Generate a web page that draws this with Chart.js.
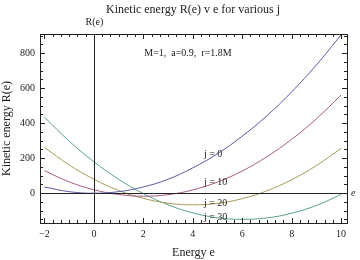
<!DOCTYPE html>
<html>
<head>
<meta charset="utf-8">
<script src="https://cdn.jsdelivr.net/npm/chart.js@4.4.1/dist/chart.umd.min.js"></script>
<style>
  html, body { margin: 0; padding: 0; background: #fff; }
  #wrap { width: 360px; height: 260px; }
</style>
</head>
<body>
<div id="wrap"><canvas id="chart" width="360" height="260"></canvas></div>
<script>
// energy values (x) and R(e)
const energy = [-2, -1, 0, 1, 2, 3, 4, 5, 6, 7, 8, 9, 10];
const rJ0  = [35, 8, -1, 8, 35, 79, 144, 225, 325, 442, 578, 732, 904];
const rJ10 = [128, 64, 19, -8, -18, -9, 18, 63, 126, 208, 307, 424, 560];
const rJ20 = [261, 161, 79, 15, -30, -58, -67, -59, -32, 13, 76, 157, 256];
const rJ30 = [434, 297, 179, 79, -3, -67, -113, -141, -150, -142, -115, -71, -8];

const seriesNames = ['j = 0', 'j = 10', 'j = 20', 'j = 30'];
const seriesColors = ['#5a5aa6', '#a55a85', '#a89a5a', '#5aa08c'];

const xTicks = [-2, 0, 2, 4, 6, 8, 10];
const yTicks = [0, 200, 400, 600, 800];

// curve labels [x, y, text]
const curveLabels = [
  [4.45, 223, 'j = 0'],
  [4.45, 63, 'j = 10'],
  [4.45, -57, 'j = 20'],
  [4.45, -137, 'j = 30']
];

const serif = "'Liberation Serif', 'DejaVu Serif', serif";

function pts(ys) {
  return energy.map((e, i) => ({ x: e, y: ys[i] }));
}

const frame = {
  id: 'frame',
  afterDraw(chart) {
    const ctx = chart.ctx;
    const a = chart.chartArea;
    const xs = chart.scales.x, ys = chart.scales.y;
    ctx.save();
    ctx.strokeStyle = '#222';
    ctx.lineWidth = 1;

    // axes through the origin
    const x0 = Math.round(xs.getPixelForValue(0)) + 0.5;
    const y0 = Math.round(ys.getPixelForValue(0)) + 0.5;
    ctx.beginPath();
    ctx.moveTo(x0, a.top); ctx.lineTo(x0, a.bottom);
    ctx.moveTo(a.left, y0); ctx.lineTo(a.right, y0);
    ctx.stroke();

    // frame
    ctx.strokeRect(Math.round(a.left) + 0.5, Math.round(a.top) + 0.5,
      Math.round(a.right - a.left), Math.round(a.bottom - a.top));

    // inward ticks
    ctx.beginPath();
    for (let k = 0; k <= 36; k++) {
      const v = -2 + k / 3;
      if (v > 10.2) break;
      const len = k % 6 === 0 ? 5 : 3;
      const px = Math.round(xs.getPixelForValue(v)) + 0.5;
      ctx.moveTo(px, a.bottom); ctx.lineTo(px, a.bottom - len);
      ctx.moveTo(px, a.top); ctx.lineTo(px, a.top + len);
    }
    for (let v = -150; v <= 900; v += 50) {
      const len = v % 200 === 0 ? 5 : 3;
      const py = Math.round(ys.getPixelForValue(v)) + 0.5;
      ctx.moveTo(a.left, py); ctx.lineTo(a.left + len, py);
      ctx.moveTo(a.right, py); ctx.lineTo(a.right - len, py);
    }
    ctx.stroke();

    // texts
    ctx.fillStyle = '#222';
    ctx.textBaseline = 'middle';
    ctx.font = '12px ' + serif;
    ctx.textAlign = 'center';
    ctx.fillText('Kinetic energy R(e) v e for various j', 193, 10);
    ctx.font = '10px ' + serif;
    ctx.fillText('R(e)', x0, 22);
    ctx.fillText('M=1,  a=0.9,  r=1.8M', 188, 53);
    ctx.font = 'italic 10px ' + serif;
    ctx.textAlign = 'left';
    ctx.fillText('e', a.right + 4, y0);
    ctx.font = '10px ' + serif;
    curveLabels.forEach(l => {
      ctx.fillText(l[2], xs.getPixelForValue(l[0]), ys.getPixelForValue(l[1]));
    });
    ctx.restore();
  }
};

new Chart(document.getElementById('chart'), {
  type: 'line',
  data: {
    datasets: [rJ0, rJ10, rJ20, rJ30].map((ys, i) => ({
      label: seriesNames[i],
      data: pts(ys),
      borderColor: seriesColors[i],
      borderWidth: 1,
      pointRadius: 0,
      tension: 0.4,
      fill: false
    }))
  },
  options: {
    responsive: false,
    animation: false,
    layout: { padding: { top: 34, right: 13, left: 0, bottom: 0 } },
    plugins: { legend: { display: false }, tooltip: { enabled: false } },
    scales: {
      x: {
        type: 'linear',
        min: -2.18,
        max: 10.24,
        afterBuildTicks: s => { s.ticks = xTicks.map(v => ({ value: v })); },
        afterFit: s => { s.height = 37; },
        grid: { display: false, drawTicks: false },
        border: { display: false },
        ticks: { color: '#222', padding: 5, font: { family: serif, size: 10 }, callback: v => v < 0 ? '\u22122' : v },
        title: { display: true, text: 'Energy e', color: '#222', padding: 0, font: { family: serif, size: 12 } }
      },
      y: {
        type: 'linear',
        min: -171,
        max: 909,
        afterBuildTicks: s => { s.ticks = yTicks.map(v => ({ value: v })); },
        afterFit: s => { s.width = 40; },
        grid: { display: false, drawTicks: false },
        border: { display: false },
        ticks: { color: '#222', padding: 5, font: { family: serif, size: 10 } },
        title: { display: true, text: 'Kinetic energy R(e)', color: '#222', padding: 0, font: { family: serif, size: 12 } }
      }
    }
  },
  plugins: [frame]
});
</script>
</body>
</html>
